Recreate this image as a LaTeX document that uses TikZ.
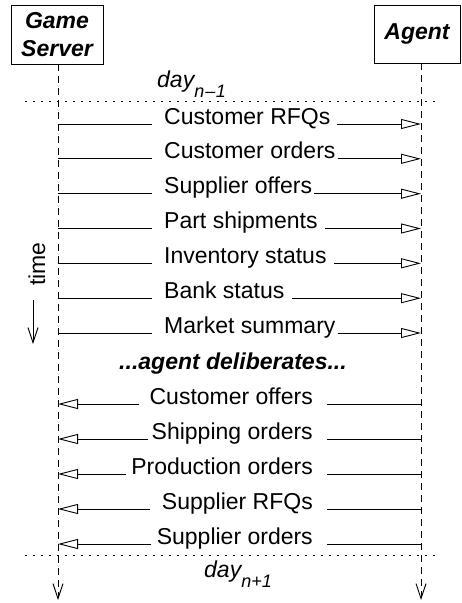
\documentclass[tikz,border=0pt]{standalone}
\usepackage{fontspec}
\setmainfont{Liberation Sans}
\usetikzlibrary{arrows.meta}
\tikzset{
  lbl/.style={inner sep=0pt, font=\fontsize{23}{27}\selectfont},
  actor/.style={draw, line width=0.9pt, inner sep=0pt, align=center,
    font=\fontsize{23}{28}\selectfont\bfseries\itshape},
  lifeline/.style={line width=0.9pt, dash pattern=on 7pt off 5pt,
    -{Straight Barb[length=15pt,width=10pt,line width=0.9pt]}},
  msg/.style={line width=0.9pt},
  msgarrow/.style={line width=0.9pt, -{Triangle[open,length=20pt,width=10pt,line width=0.9pt]}},
  dayline/.style={line width=1pt, dash pattern=on 1.5pt off 6.5pt},
}
\begin{document}
\begin{tikzpicture}[x=1pt,y=-1pt]
\useasboundingbox (0,0) rectangle (461,603);

% actors
\node[actor, minimum width=92pt, minimum height=59pt] (gs) at (57,34.5) {Game\\Server};
\node[actor, minimum width=86pt, minimum height=58pt] (ag) at (417,34) {Agent};

% lifelines
\coordinate (gstop) at (58,64);
\coordinate (gsend) at (58,600);
\coordinate (agtop) at (421,63);
\coordinate (agend) at (421,600);
\draw[lifeline] (gstop) -- (gsend);
\draw[lifeline] (agtop) -- (agend);

% day separators
\coordinate (d1l) at (25,101);
\coordinate (d1r) at (441,101);
\draw[dayline] (d1l) -- (d1r);
\node[lbl, anchor=base west] (day1) at (157,87) {\itshape day\raisebox{-10pt}{\fontsize{18}{18}\selectfont\itshape n\kern1pt–\kern0.5pt1}};
\coordinate (d2l) at (25,555);
\coordinate (d2r) at (441,555);
\draw[dayline] (d2l) -- (d2r);
\node[lbl, anchor=base west] (day2) at (204,577) {\itshape day\raisebox{-10pt}{\fontsize{18}{18}\selectfont\itshape n+1}};

% time arrow
\node[lbl, rotate=90] (time) at (37,264) {time};
\coordinate (t1) at (33,300);
\coordinate (t2) at (33,344);
\draw[line width=0.9pt, -{Straight Barb[length=15pt,width=10pt,line width=0.9pt]}] (t1) -- (t2);

% forward messages (server -> agent)
\foreach \i/\y/\txt/\gap in {
  1/124/Customer RFQs/6,
  2/158.8/Customer orders/2,
  3/193.7/Supplier offers/2,
  4/228.5/Part shipments/7,
  5/263.3/Inventory status/7,
  6/298.2/Bank status/7,
  7/333/Market summary/2}{
  \node[lbl, anchor=base west] (f\i) at (164,\y) {\txt};
  \coordinate (fs\i) at (58,\y);
  \coordinate (fe\i) at (152,\y);
  \coordinate (fa\i) at (421,\y);
  \draw[msg] (fs\i) -- (fe\i);
  \draw[msgarrow] ([xshift=\gap pt]f\i.base east) -- (fa\i);
}

% deliberation
\node[lbl, anchor=base, font=\fontsize{23}{27}\selectfont\bfseries\itshape] (delib) at (233,369) {...agent deliberates...};

% backward messages (agent -> server)
\foreach \i/\y/\txt/\gap in {
  1/404/Customer offers/10,
  2/439/Shipping orders/4,
  3/474/Production orders/5,
  4/509/Supplier RFQs/12,
  5/544/Supplier orders/6}{
  \node[lbl, anchor=base east] (b\i) at (313,\y) {\txt};
  \coordinate (bs\i) at (421,\y);
  \coordinate (be\i) at (327,\y);
  \coordinate (ba\i) at (58,\y);
  \draw[msg] (bs\i) -- (be\i);
  \draw[msgarrow] ([xshift=-\gap pt]b\i.base west) -- (ba\i);
}
\end{tikzpicture}
\end{document}
